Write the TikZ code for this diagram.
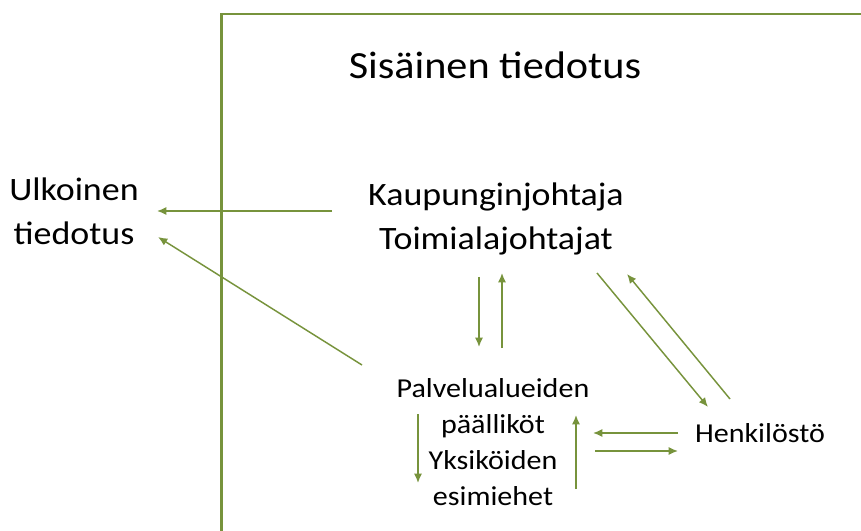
\documentclass[tikz,border=0pt]{standalone}
\usepackage{fontspec}
\setmainfont{Carlito}[FakeStretch=1.1]
\usetikzlibrary{arrows.meta}

\definecolor{leafgreen}{HTML}{77933C}

\begin{document}
\begin{tikzpicture}[x=0.75pt,y=-0.75pt]
  \tikzset{
    flow/.style={draw=leafgreen, line width=1.1pt, -{Latex[length=7pt,width=6pt]}},
    titletext/.style={font=\fontsize{28.8}{34}\selectfont, inner sep=0pt, anchor=base},
    bigtext/.style={font=\fontsize{24.5}{33.4}\selectfont, align=center, inner sep=0pt, anchor=base},
    smalltext/.style={font=\fontsize{20.5}{27}\selectfont, align=center, inner sep=0pt, anchor=base}
  }
  \useasboundingbox (0,0) rectangle (861,531);

  % frame of the inner area
  \draw[leafgreen, line width=1.9pt] (221.5,531) -- (221.5,14) -- (861,14);

  % base is the baseline of the last line
  \node[titletext] (sis) at (495,79) {Sisäinen tiedotus};
  \node[bigtext] (ulk) at (74,245) {Ulkoinen\\tiedotus};
  \node[bigtext] (johto) at (496,250) {Kaupunginjohtaja\\Toimialajohtajat};
  \node[smalltext] (esim) at (493,505) {Palvelualueiden\\päälliköt\\Yksiköiden\\esimiehet};
  \node[smalltext] (henk) at (760,442) {Henkilöstö};

  % arrow ends
  \coordinate (a1) at (332,211);  \coordinate (b1) at (157,211);
  \coordinate (a2) at (362,365);  \coordinate (b2) at (158,237);
  \coordinate (a3) at (479,277);  \coordinate (b3) at (479,347);
  \coordinate (a4) at (502,348);  \coordinate (b4) at (502,273);
  \coordinate (a5) at (597,273);  \coordinate (b5) at (708,407);
  \coordinate (a6) at (730,399);  \coordinate (b6) at (627,274);
  \coordinate (a7) at (418,414);  \coordinate (b7) at (418,483);
  \coordinate (a8) at (576,489);  \coordinate (b8) at (576,415);
  \coordinate (a9) at (678,433);  \coordinate (b9) at (593,433);
  \coordinate (a10) at (595,451); \coordinate (b10) at (678,451);

  \foreach \i in {1,...,10}
    \draw[flow] (a\i) -- (b\i);

\end{tikzpicture}
\end{document}
